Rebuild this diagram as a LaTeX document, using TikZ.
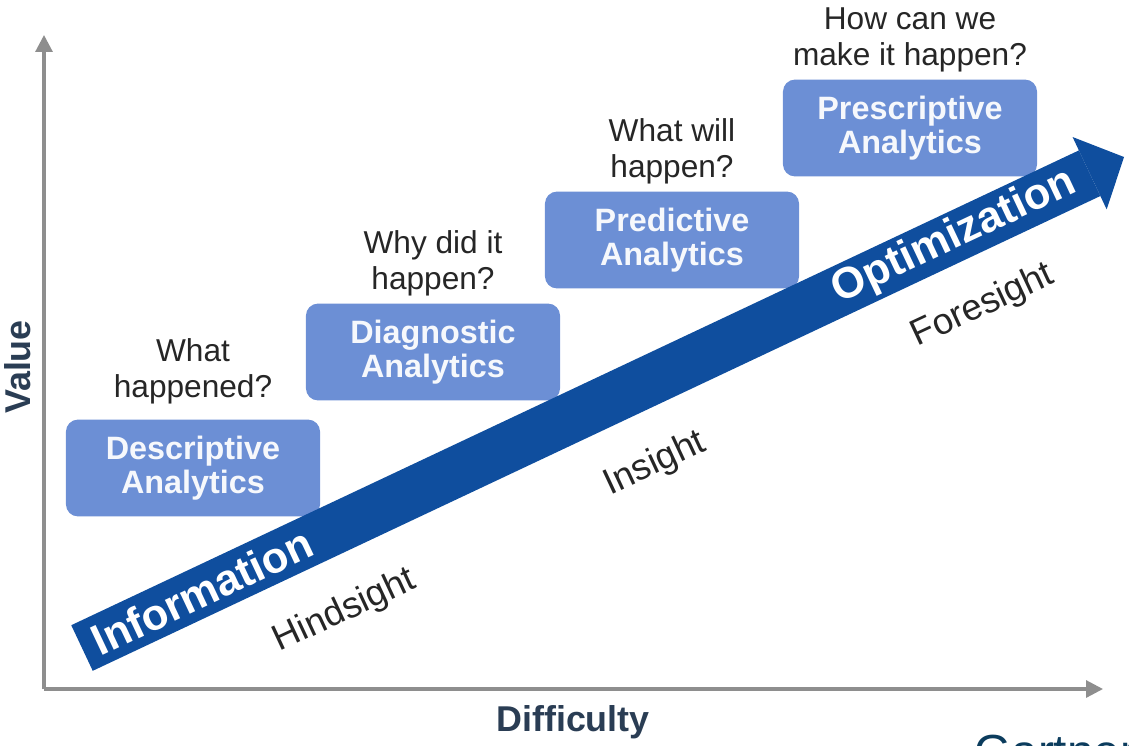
\documentclass[tikz,border=0pt]{standalone}
\usepackage{fontspec}
\setmainfont{Liberation Sans}
\usetikzlibrary{arrows.meta,positioning}

\definecolor{boxblue}{HTML}{6C8FD5}
\definecolor{arrowblue}{HTML}{0F4E9E}
\definecolor{axisgray}{HTML}{8E8E8E}
\definecolor{labelnavy}{HTML}{2A3D54}
\definecolor{textdark}{HTML}{262626}
\definecolor{gartnerblue}{HTML}{0B3C5D}

\begin{document}
\begin{tikzpicture}[
    x=0.025cm, y=-0.025cm,
    stagebox/.style={fill=boxblue,rounded corners=0.3cm,align=center,
                     minimum width=6.35cm,minimum height=2.42cm,inner sep=0pt,
                     text=white!94!boxblue,font=\fontsize{23}{24.5}\selectfont\bfseries},
    question/.style={align=center,inner sep=0pt,text=textdark,
                     font=\fontsize{22.5}{25.6}\selectfont},
    sight/.style={rotate=25,inner sep=0pt,text=textdark,font=\fontsize{26}{30}\selectfont},
    axislabel/.style={inner sep=0pt,text=labelnavy,font=\fontsize{25.5}{30}\selectfont\bfseries},
    axis/.style={axisgray,line width=2.2pt,-{Triangle[length=12pt,width=12pt]}},
    bigarrow/.style={arrowblue,line width=1.26cm,
                     -{Triangle[length=0.95cm,width=2cm,line width=0pt]}},
    onarrow/.style={sloped,inner sep=0pt,text=white,font=\fontsize{31}{36}\selectfont\bfseries}
  ]
  \clip (0,0) rectangle (1129,745);

  % axes
  \coordinate (origin) at (44,689);
  \coordinate (ytop) at (44,35);
  \coordinate (xend) at (1103,689);
  \draw[axis] (origin) -- (ytop);
  \draw[axis] (origin) -- (xend);
  \node[axislabel,rotate=90] (value) at (18,367) {Value};
  \node[axislabel] (diff) at (573,722) {Difficulty};

  % the four stages
  \node[stagebox] (desc) at (193,468) {Descriptive\\Analytics};
  \node[stagebox] (diag) at (433,352) {Diagnostic\\Analytics};
  \node[stagebox] (pred) at (672,240) {Predictive\\Analytics};
  \node[stagebox] (presc) at (910,128) {Prescriptive\\Analytics};

  \node[question,above=3.7mm of desc] (qdesc) {What\\happened?};
  \node[question,above=1.8mm of diag] (qdiag) {Why did it\\happen?};
  \node[question,above=1.8mm of pred] (qpred) {What will\\happen?};
  \node[question,above=1.8mm of presc] (qpresc) {How can we\\make it happen?};

  % information -> optimization
  \coordinate (tail) at (82,648);
  \coordinate (tip) at (1124,157);
  \draw[bigarrow] (tail) -- (tip)
    node[onarrow,pos=0.115] (info) {Information}
    node[onarrow,pos=0.837] (optim) {Optimization};

  \node[sight] (hind) at (345,611) {Hindsight};
  \node[sight] (ins) at (655,464) {Insight};
  \node[sight] (fore) at (983,306) {Foresight};

  \node[inner sep=0pt,anchor=north west,text=gartnerblue,
        font=\fontsize{34}{40}\selectfont] (gartner) at (974,735) {Gartner};
\end{tikzpicture}
\end{document}
